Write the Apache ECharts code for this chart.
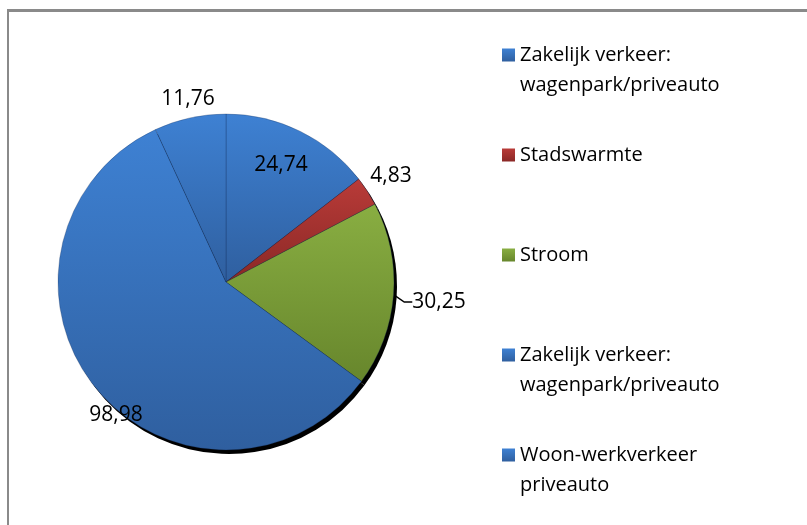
<!DOCTYPE html>
<html>
<head>
<meta charset="utf-8">
<script src="https://cdn.jsdelivr.net/npm/echarts@6/dist/echarts.min.js"></script>
<style>
	html, body { margin: 0; padding: 0; background: #fff; }
	#frame { position: absolute; left: 7px; top: 9px; width: 900px; height: 700px; border-top: 3px solid #8a8a8a; border-left: 2px solid #8a8a8a; }
	#chart { position: absolute; left: 0; top: 0; width: 807px; height: 525px; }
</style>
</head>
<body>
<div id="frame"></div>
<div id="chart"></div>
<script>
	// data, in slice order (clockwise from 12 o'clock)
	const categories = [
		'Zakelijk verkeer:\nwagenpark/priveauto',
		'Stadswarmte',
		'Stroom',
		'Zakelijk verkeer:\nwagenpark/priveauto ', // trailing space keeps the legend entry apart
		'Woon-werkverkeer\npriveauto'
	];
	const values = [24.74, 4.83, 30.25, 98.98, 11.76];

	// styling
	const blue = ['#3e81d3', '#2f5f9f'];
	const sliceColors = [blue, ['#b93b38', '#8a2826'], ['#89ae42', '#67862c'], blue, blue];
	// label centres in px (Excel "best fit" placement)
	const labelSpots = [[281, 165], [391, 176], [439, 302], [116, 415], [188, 99]];

	function grad(c) {
		return new echarts.graphic.LinearGradient(0, 0, 0, 1, [
			{ offset: 0, color: c[0] },
			{ offset: 1, color: c[1] }
		]);
	}

	const myChart = echarts.init(document.getElementById('chart'));
	const option = {
		animation: false,
		legend: {
			orient: 'vertical',
			left: 502,
			top: 10,
			padding: 0,
			itemWidth: 13,
			itemHeight: 13,
			itemGap: 10,
			icon: 'rect',
			selectedMode: false,
			itemStyle: { borderWidth: 0 },
			data: categories,
			// pad every entry to three lines so the marker sits on the first line
			formatter: function(name) {
				const n = name.trim();
				return n.indexOf('\n') >= 0 ? ' \n' + n : ' \n' + n + '\n ';
			},
			textStyle: {
				fontFamily: 'Open Sans',
				fontSize: 20,
				lineHeight: 30,
				color: '#000'
			}
		},
		series: [{
				type: 'pie',
				z: 2,
				center: [226, 282],
				radius: 168,
				startAngle: 90,
				clockwise: true,
				avoidLabelOverlap: false,
				emphasis: { disabled: true },
				itemStyle: {
					borderColor: 'rgba(20,40,80,0.35)',
					borderWidth: 0.8
				},
				label: {
					show: true,
					position: 'outside',
					fontFamily: 'Open Sans',
					fontSize: 21,
					color: '#000',
					formatter: function(p) {
						return String(p.value).replace('.', ',');
					}
				},
				labelLine: {
					show: false,
					length: 8,
					length2: 8,
					lineStyle: { color: '#000', width: 1.5 }
				},
				labelLayout: function(p) {
					const s = labelSpots[p.dataIndex];
					return { x: s[0], y: s[1], align: 'center', verticalAlign: 'middle' };
				},
				data: categories.map(function(name, i) {
					return {
						name: name,
						value: values[i],
						itemStyle: { color: grad(sliceColors[i]) },
						labelLine: { show: i === 2 }
					};
				})
			},
			{
				// drop shadow under the pie
				type: 'pie',
				z: 1,
				silent: true,
				center: [229, 286],
				radius: 168,
				startAngle: 90,
				emphasis: { disabled: true },
				label: { show: false },
				labelLine: { show: false },
				itemStyle: { color: '#000' },
				data: values.slice()
			}
		]
	};
	myChart.setOption(option);
</script>
</body>
</html>
